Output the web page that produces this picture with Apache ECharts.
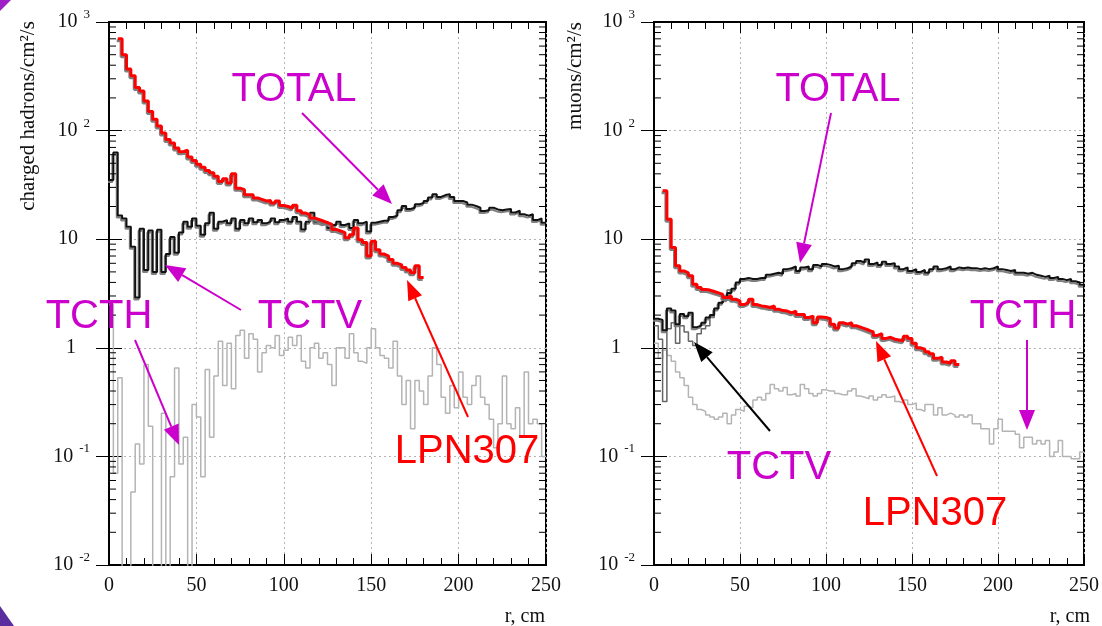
<!DOCTYPE html>
<html><head><meta charset="utf-8">
<script src="https://cdn.jsdelivr.net/npm/echarts@6/dist/echarts.min.js"></script>
<style>html,body{margin:0;padding:0;background:#fff}#c{width:1102px;height:626px}</style>
</head><body><div id="c"></div>
<script>
// ---------------- DATA (bin width 2.5 cm) ----------------
const BIN = 2.5;
const xTickValues = [0, 50, 100, 150, 200, 250];
const yDecades = [0.01, 0.1, 1, 10, 100, 1000];

// left panel: charged hadrons
const hadronTotalStart = 0;
const hadronTotal = [
  35, 63, 16.5, 15.5, 13, 8.5, 2.9, 12.5, 5.2, 12,
  5.0, 12.2, 5.0, 7.3, 10.5, 7.5, 11.5, 14.5, 13, 15.5,
  13.3, 11, 14, 17.5, 12.5, 14.5, 15, 14, 15.5, 12.5,
  15, 14, 15.5, 14.3, 15, 14, 14.5, 15.5, 14.3, 15,
  15.5, 14.5, 16, 14.5, 12.3, 14.5, 17.5, 14.5, 14, 14.5,
  12.7, 13.5, 14.5, 13.5, 14, 12.7, 15, 14, 14.5, 11.8,
  14.2, 14.5, 14.8, 14.8, 16, 16.5, 18.5, 20.2, 19, 19.5,
  21, 21.5, 22.5, 24.2, 26, 24.5, 25.5, 26, 24.5, 22.5,
  22.5, 21.8, 20.8, 20.2, 19.5, 18.2, 18.5, 19.5, 18.8, 18.5,
  18.8, 19, 17.6, 18.3, 17, 16.5, 17, 15, 15.5, 14.2
];
const hadronLPNStart = 5;
const hadronLPN = [
  700, 500, 370, 320, 250, 232, 187, 150, 127, 110,
  95, 83, 77, 69, 64, 66, 57, 53, 49, 46,
  43, 41, 38, 34, 36, 33, 40, 29.5, 28.6, 25.7,
  25.7, 24, 23.3, 22.5, 22.7, 21.5, 22.5, 20.4, 20, 19.3,
  20.5, 18.3, 17.4, 16.8, 15.7, 15.2, 14.7, 14.2, 13.7, 12.3,
  11.9, 11.5, 10.3, 11, 12.7, 9.9, 9.3, 7.0, 9.6, 8.0,
  7.3, 7.0, 6.5, 6.0, 5.8, 5.5, 5.2, 4.9, 5.7, 4.45
];
const hadronTCTHStart = 0;
const hadronTCTH = [
  2.5, 0.07, 0.53, 0.0001, 0.0001, 0.047, 0.13, 0.085, 0.7, 0.19,
  0.0001, 0.0001, 0.25, 0.0001, 0.065, 0.65, 0.085, 0.15, 0.0001, 0.3,
  0.23, 0.065, 0.63, 0.15, 0.55, 1.15, 0.45, 1.1, 0.42, 1.3,
  1.45, 0.8, 1.35, 1.2, 0.6, 0.9, 1.05, 1.0, 1.3, 0.85,
  0.95, 1.25, 1.05, 1.3, 0.75, 0.65, 1.0, 1.1, 0.8, 0.9,
  0.7, 0.45, 1.0, 1.0, 0.8, 1.35, 0.9, 0.75, 0.72, 1.0,
  1.5, 1.0, 0.85, 0.8, 0.65, 1.15, 0.55, 0.3, 0.5, 0.18,
  0.5, 0.4, 0.3, 0.55, 1.0, 0.7, 0.35, 0.25, 0.45, 0.28,
  0.6, 0.35, 0.3, 0.45, 0.55, 0.35, 0.3, 0.22, 0.12, 0.2,
  0.55, 0.2, 0.18, 0.28, 0.15, 0.6, 0.2, 0.22, 0.2, 0.1
];

// right panel: muons
const muonTotalStart = 0;
const muonTotal = [
  1.85, 1.8, 1.45, 2.3, 2.2, 1.65, 2.05, 1.95, 2.1, 1.55,
  1.6, 1.7, 1.9, 2.0, 2.3, 2.6, 2.8, 3.2, 3.5, 4.0,
  4.3, 4.4, 4.3, 4.3, 4.4, 4.4, 4.7, 4.8, 4.9, 4.8,
  5.3, 5.4, 5.6, 5.1, 5.5, 5.6, 5.3, 5.8, 5.6, 5.9,
  5.8, 5.6, 5.7, 5.3, 5.4, 5.6, 6.0, 6.3, 6.1, 6.5,
  5.9, 6.1, 5.8, 6.2, 5.9, 6.0, 5.6, 5.3, 5.5, 5.1,
  5.3, 5.0, 5.2, 4.9, 5.3, 5.6, 5.3, 5.4, 5.6, 5.3,
  5.5, 5.4, 5.5, 5.4, 5.4, 5.3, 5.4, 5.3, 5.4, 5.6,
  5.3, 5.2, 5.1, 5.2, 4.9, 4.9, 4.8, 4.9, 4.7, 4.6,
  4.5, 4.6, 4.4, 4.5, 4.3, 4.2, 4.3, 4.1, 4.0, 3.8
];
const muonTCTVStart = 0;
const muonTCTV = [
  1.6, 1.2, 0.32, 1.5, 1.7, 1.1, 1.6, 1.4, 1.15, 1.05,
  1.35, 1.5, 1.6, 1.9, 2.3, 2.6, 3.0, 3.4
];
const muonLPNStart = 5;
const muonLPN = [
  28, 15.3, 8.4, 5.7, 5.1, 4.9, 4.6, 3.85, 3.6, 3.45,
  3.4, 3.3, 3.2, 3.1, 2.9, 3.0, 2.8, 2.7, 2.5, 2.6,
  2.8, 2.5, 2.43, 2.4, 2.35, 2.43, 2.27, 2.2, 2.18, 2.1,
  2.18, 2.03, 2.03, 1.9, 1.96, 1.7, 1.92, 1.9, 1.85, 1.65,
  1.52, 1.7, 1.65, 1.7, 1.6, 1.55, 1.5, 1.45, 1.4, 1.3,
  1.35, 1.22, 1.25, 1.2, 1.18, 1.16, 1.28, 1.22, 1.1, 1.0,
  0.97, 0.92, 0.88, 0.8, 0.82, 0.74, 0.72, 0.76, 0.7
];
const muonTCTHStart = 0;
const muonTCTH = [
  1.1, 0.8, 0.95, 0.85, 0.75, 0.6, 0.53, 0.45, 0.35, 0.3,
  0.27, 0.26, 0.24, 0.23, 0.22, 0.23, 0.25, 0.2, 0.24, 0.27,
  0.26, 0.29, 0.28, 0.33, 0.35, 0.33, 0.38, 0.46, 0.42, 0.4,
  0.43, 0.37, 0.38, 0.36, 0.46, 0.42, 0.38, 0.36, 0.38, 0.41,
  0.4, 0.4, 0.38, 0.37, 0.37, 0.4, 0.42, 0.36, 0.35, 0.34,
  0.36, 0.33, 0.35, 0.37, 0.35, 0.36, 0.32, 0.31, 0.33, 0.3,
  0.31, 0.27, 0.26, 0.3, 0.3, 0.24, 0.28, 0.24, 0.25, 0.24,
  0.23, 0.24, 0.23, 0.24, 0.2, 0.2, 0.18, 0.18, 0.13, 0.18,
  0.22, 0.17, 0.17, 0.17, 0.16, 0.12, 0.15, 0.15, 0.13, 0.14,
  0.13, 0.14, 0.1, 0.11, 0.14, 0.1, 0.1, 0.095, 0.095, 0.11
];

// ---------------- helpers ----------------
function hist(start, vals) {
  const pts = vals.map((v, i) => [start + i * BIN, v]);
  pts.push([start + vals.length * BIN, vals[vals.length - 1]]);
  return pts;
}
const minorVals = [];
for (let k = -2; k <= 2; k++) for (let m = 2; m <= 9; m++) minorVals.push(m * Math.pow(10, k));

const SERIF = '"Liberation Serif", "Times New Roman", serif';
const SANS = '"Liberation Sans", Arial, sans-serif';
const MAG = '#cc00cc';

function yLabel(v) {
  const e = Math.round(Math.log10(v));
  if (e === 1) return '{p|10}';
  if (e === 0) return '{q|1}';
  return '{b|10}{e|' + e + '}';
}
const yRich = {
  b: { fontFamily: SERIF, fontSize: 20, color: '#111', padding: [4, 0, 4, 0] },
  e: { fontFamily: SERIF, fontSize: 13, color: '#111', verticalAlign: 'top', padding: [0, 0, 0, 6] },
  p: { fontFamily: SERIF, fontSize: 20, color: '#111', padding: [0, 12, 0, 0] },
  q: { fontFamily: SERIF, fontSize: 20, color: '#111', padding: [0, 14, 0, 0] }
};
const gridLine = { show: true, lineStyle: { color: '#b4b4b4', width: 1, type: [2, 3] } };

function xAxes(g) {
  const base = { type: 'value', gridIndex: g, min: 0, max: 250, interval: 50 };
  return [
    Object.assign({}, base, {
      position: 'bottom',
      axisLine: { show: true, lineStyle: { color: '#000', width: 2 } },
      axisTick: { show: true, inside: true, length: 11, lineStyle: { color: '#000', width: 1 } },
      minorTick: { show: true, splitNumber: 5, length: 7, lineStyle: { color: '#000', width: 1 } },
      axisLabel: { fontFamily: SERIF, fontSize: 20, color: '#111', margin: 11 },
      splitLine: gridLine
    }),
    Object.assign({}, base, {
      position: 'top',
      axisLine: { show: true, lineStyle: { color: '#000', width: 2 } },
      axisTick: { show: true, inside: true, length: 11, lineStyle: { color: '#000', width: 1 } },
      minorTick: { show: true, splitNumber: 5, length: 7, lineStyle: { color: '#000', width: 1 } },
      axisLabel: { show: false },
      splitLine: { show: false }
    })
  ];
}
function yAxes(g) {
  const base = { type: 'log', logBase: 10, gridIndex: g, min: 0.01, max: 1000, splitNumber: 5 };
  return ['left', 'right'].map(pos => Object.assign({}, base, {
    position: pos,
    axisLine: { show: true, lineStyle: { color: '#000', width: 2 } },
    axisTick: { show: true, inside: true, length: 13, lineStyle: { color: '#000', width: 1 } },
    axisLabel: pos === 'left'
      ? { show: true, formatter: yLabel, rich: yRich, margin: 19, align: 'right' }
      : { show: false },
    splitLine: pos === 'left' ? gridLine : { show: false }
  }));
}

// minor log ticks on both vertical frame edges, placed through the y scale
function minorTickSeries(xi, yi) {
  return {
    type: 'custom', xAxisIndex: xi, yAxisIndex: yi, silent: true, clip: false, z: 10,
    data: minorVals.map(v => [0, v]),
    renderItem: function (params, api) {
      const cs = params.coordSys;
      const y = api.coord([0, api.value(1)])[1];
      const st = { stroke: '#000', lineWidth: 1 };
      return {
        type: 'group',
        children: [
          { type: 'line', shape: { x1: cs.x, y1: y, x2: cs.x + 7, y2: y }, style: st },
          { type: 'line', shape: { x1: cs.x + cs.width - 7, y1: y, x2: cs.x + cs.width, y2: y }, style: st }
        ]
      };
    }
  };
}

const shadow = { shadowColor: 'rgba(120,120,120,0.95)', shadowBlur: 0, shadowOffsetX: -1, shadowOffsetY: 2 };
function line(xi, yi, data, color, width, z, withShadow) {
  return {
    type: 'line', xAxisIndex: xi, yAxisIndex: yi, step: 'end', data: data,
    showSymbol: false, symbol: 'none', silent: true, clip: true, z: z,
    lineStyle: Object.assign({ color: color, width: width }, withShadow ? shadow : {})
  };
}

function arrow(x1, y1, x2, y2, color, w, hl, hw) {
  const dx = x2 - x1, dy = y2 - y1, L = Math.hypot(dx, dy);
  const ux = dx / L, uy = dy / L;
  const bx = x2 - ux * hl, by = y2 - uy * hl;
  const nx = -uy, ny = ux;
  return [
    { type: 'line', shape: { x1: x1, y1: y1, x2: bx, y2: by }, style: { stroke: color, lineWidth: w }, z: 50 },
    { type: 'polygon', shape: { points: [[x2, y2], [bx + nx * hw / 2, by + ny * hw / 2], [bx - nx * hw / 2, by - ny * hw / 2]] }, style: { fill: color }, z: 50 }
  ];
}
function label(text, x, y, color) {
  return { type: 'text', z: 60, style: { text: text, x: x, y: y, fill: color, fontSize: 40, fontFamily: SANS, align: 'center', verticalAlign: 'middle' } };
}

const graphics = [].concat(
  // axis titles
  [{ type: 'text', z: 60, x: 28, y: 116, rotation: Math.PI / 2, style: { text: 'charged hadrons/cm²/s', fill: '#111', fontSize: 21, fontFamily: SERIF, align: 'center', verticalAlign: 'middle' } },
   { type: 'text', z: 60, x: 575, y: 76, rotation: Math.PI / 2, style: { text: 'muons/cm²/s', fill: '#111', fontSize: 21, fontFamily: SERIF, align: 'center', verticalAlign: 'middle' } },
   { type: 'text', z: 60, style: { text: 'r, cm', x: 545, y: 617, fill: '#111', fontSize: 20, fontFamily: SERIF, align: 'right', verticalAlign: 'middle' } },
   { type: 'text', z: 60, style: { text: 'r, cm', x: 1090, y: 617, fill: '#111', fontSize: 20, fontFamily: SERIF, align: 'right', verticalAlign: 'middle' } }],
  // left annotations
  [label('TOTAL', 294, 90, MAG)], arrow(302, 113, 392, 204, MAG, 2, 20, 16),
  [label('TCTV', 310, 317, MAG)], arrow(241, 310, 165, 265, MAG, 2, 20, 16),
  [label('TCTH', 99, 317, MAG)], arrow(135, 340, 179, 445, MAG, 2, 20, 16),
  [label('LPN307', 467, 452, '#ff0000')], arrow(468, 417, 407, 280, '#ff0000', 2, 20, 15),
  // right annotations
  [label('TOTAL', 838, 90, MAG)], arrow(831, 113, 800, 263, MAG, 2, 20, 16),
  [label('TCTH', 1023, 317, MAG)], arrow(1027, 340, 1027, 430, MAG, 2, 20, 16),
  [label('TCTV', 779, 468, MAG)], arrow(770, 431, 694, 342, '#000', 2, 20, 15),
  [label('LPN307', 935, 514, '#ff0000')], arrow(937, 476, 876, 341, '#ff0000', 2, 20, 15),
  // slide corner decorations
  [{ type: 'polygon', z: 70, shape: { points: [[0, 0], [11, 0], [0, 11]] }, style: { fill: '#a020c8' } },
   { type: 'polygon', z: 70, shape: { points: [[0, 606], [14, 626], [0, 626]] }, style: { fill: '#5b2ea0' } }]
);

const chart = echarts.init(document.getElementById('c'), null, { renderer: 'canvas' });
chart.setOption({
  animation: false,
  backgroundColor: '#fff',
  grid: [
    { left: 109, top: 22, width: 437, height: 543, show: true, borderColor: '#000', borderWidth: 2, backgroundColor: 'transparent' },
    { left: 654, top: 22, width: 436, height: 543, show: true, borderColor: '#000', borderWidth: 2, backgroundColor: 'transparent' }
  ],
  xAxis: xAxes(0).concat(xAxes(1)),
  yAxis: yAxes(0).concat(yAxes(1)),
  series: [
    minorTickSeries(0, 0),
    minorTickSeries(2, 2),
    line(0, 0, hist(hadronTCTHStart, hadronTCTH), '#b4b4b4', 1.5, 2, false),
    line(0, 0, hist(hadronTotalStart, hadronTotal), '#111', 2, 3, true),
    line(0, 0, hist(hadronLPNStart, hadronLPN), '#ff0000', 3, 4, true),
    line(2, 2, hist(muonTCTHStart, muonTCTH), '#b4b4b4', 1.5, 2, false),
    line(2, 2, hist(muonTCTVStart, muonTCTV), '#666', 1.5, 3, false),
    line(2, 2, hist(muonTotalStart, muonTotal), '#111', 2, 3, true),
    line(2, 2, hist(muonLPNStart, muonLPN), '#ff0000', 3, 4, true)
  ],
  graphic: graphics
});
</script>
</body></html>
